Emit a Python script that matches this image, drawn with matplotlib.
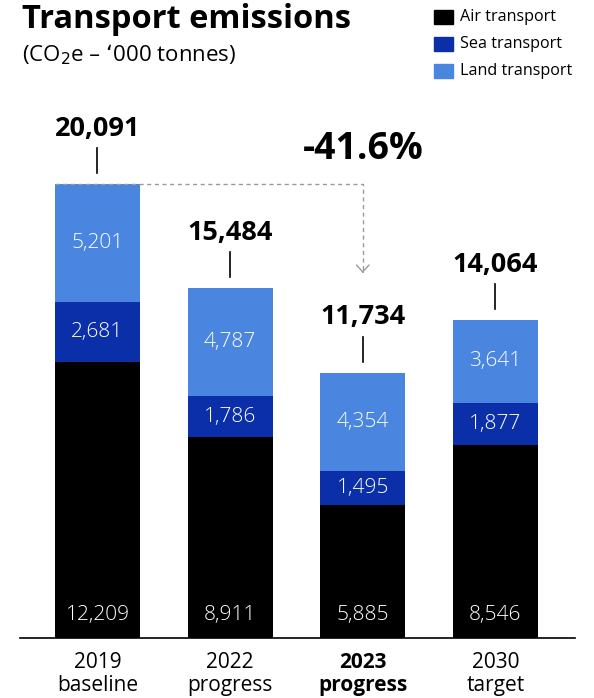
import matplotlib.pyplot as plt
from matplotlib.patches import Rectangle

categories = ['2019\nbaseline', '2022\nprogress', '2023\nprogress', '2030\ntarget']
air = [12209, 8911, 5885, 8546]
sea = [2681, 1786, 1495, 1877]
land = [5201, 4787, 4354, 3641]
totals = [20091, 15484, 11734, 14064]
change_label = '-41.6%'

c_air = '#000000'
c_sea = '#0a2fa8'
c_land = '#4a86e0'
grey = '#9a9a9a'

plt.rcParams['font.family'] = ['Open Sans', 'DejaVu Sans']

fig = plt.figure(figsize=(5.94, 6.98), dpi=100)
ax = fig.add_axes([20 / 594, 60 / 698, 555 / 594, 497 / 698])

x = list(range(len(categories)))
w = 0.64
ax.bar(x, air, w, color=c_air)
ax.bar(x, sea, w, bottom=air, color=c_sea)
bot2 = [a + s for a, s in zip(air, sea)]
ax.bar(x, land, w, bottom=bot2, color=c_land)

ax.set_xlim(-0.584, 3.6)
ax.set_ylim(0, 22000)
for s in ['top', 'right', 'left']:
    ax.spines[s].set_visible(False)
ax.spines['bottom'].set_linewidth(1.2)
ax.set_yticks([])
ax.set_xticks([])

px = 44.25  # tonnes per pixel
lab_kw = dict(color='white', fontsize=15, fontweight='light', ha='center', va='center')
for i in x:
    ax.annotate(f'{air[i]:,}', (i, 0), xytext=(0, 16.5), textcoords='offset points', **lab_kw)
    ax.text(i, air[i] + sea[i] / 2, f'{sea[i]:,}', **lab_kw)
    ax.text(i, bot2[i] + land[i] / 2, f'{land[i]:,}', **lab_kw)
    # total label with tick line
    ax.plot([i, i], [totals[i] + 11 * px, totals[i] + 36 * px], color='black', lw=1.2, clip_on=False)
    ax.annotate(f'{totals[i]:,}', (i, totals[i]), xytext=(0, 40), textcoords='offset points',
                ha='center', va='center', fontsize=19.5, fontweight='bold', annotation_clip=False)
    bold = 'bold' if i == 2 else 'normal'
    ax.annotate(categories[i], (i, 0), xytext=(0, -10), textcoords='offset points',
                ha='center', va='top', fontsize=15, fontweight=bold, linespacing=1.15,
                annotation_clip=False)

# dashed reduction line
tip = totals[2] + 4300
ax.plot([-w / 2, 2, 2], [totals[0], totals[0], tip + 150], color=grey, lw=1,
        ls=(0, (3, 2.5)), clip_on=False)
ax.annotate('', xy=(2, tip), xytext=(2, tip + 300),
            arrowprops=dict(arrowstyle='->,head_length=0.5,head_width=0.45', color=grey, lw=1),
            annotation_clip=False)
ax.text(2, totals[0] + 1550, change_label, ha='center', va='center', fontsize=27,
        fontweight='bold', clip_on=False)

# title
fig.text(22 / 594, 1 - 19 / 698, 'Transport emissions', fontsize=23.5, fontweight='bold',
         ha='left', va='center')
fig.text(22 / 594, 1 - 55 / 698, "(CO$_2$e – \u2018000 tonnes)", fontsize=16,
         ha='left', va='center')

# legend
for k, (name, col) in enumerate([('Air transport', c_air), ('Sea transport', c_sea),
                                 ('Land transport', c_land)]):
    yc = 17 + k * 27
    fig.patches.append(Rectangle((434 / 594, 1 - (yc + 7) / 698), 19 / 594, 14 / 698,
                                 transform=fig.transFigure, color=col))
    fig.text(460 / 594, 1 - yc / 698, name, fontsize=11.6, ha='left', va='center')

fig.savefig('out.png', dpi=100)
